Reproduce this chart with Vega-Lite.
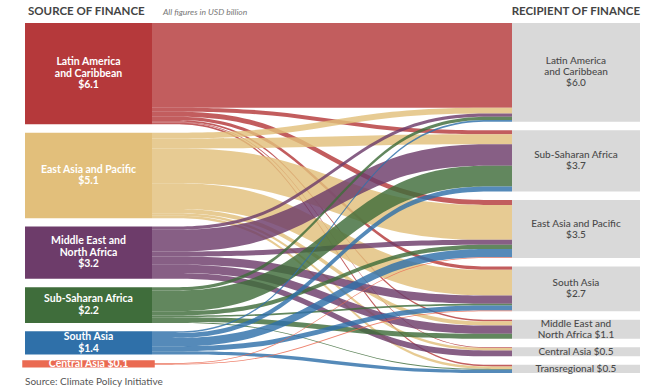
{
  "$schema": "https://vega.github.io/schema/vega-lite/v6.json",
  "width": 650,
  "height": 390,
  "autosize": "none",
  "padding": 0,
  "background": "white",
  "config": {"view": {"stroke": null}, "text": {"font": "Lato"}},
  "datasets": {
    "links": [
      {"source": "Latin America and Caribbean", "target": "Latin America and Caribbean", "value": 5.1},
      {"source": "Latin America and Caribbean", "target": "Sub-Saharan Africa", "value": 0.25},
      {"source": "Latin America and Caribbean", "target": "East Asia and Pacific", "value": 0.3},
      {"source": "Latin America and Caribbean", "target": "South Asia", "value": 0.2},
      {"source": "Latin America and Caribbean", "target": "Middle East and North Africa", "value": 0.1},
      {"source": "Latin America and Caribbean", "target": "Central Asia", "value": 0.05},
      {"source": "Latin America and Caribbean", "target": "Transregional", "value": 0.1},
      {"source": "East Asia and Pacific", "target": "Latin America and Caribbean", "value": 0.35},
      {"source": "East Asia and Pacific", "target": "Sub-Saharan Africa", "value": 0.6},
      {"source": "East Asia and Pacific", "target": "East Asia and Pacific", "value": 2.1},
      {"source": "East Asia and Pacific", "target": "South Asia", "value": 1.55},
      {"source": "East Asia and Pacific", "target": "Middle East and North Africa", "value": 0.25},
      {"source": "East Asia and Pacific", "target": "Central Asia", "value": 0.15},
      {"source": "East Asia and Pacific", "target": "Transregional", "value": 0.15},
      {"source": "Middle East and North Africa", "target": "Latin America and Caribbean", "value": 0.2},
      {"source": "Middle East and North Africa", "target": "Sub-Saharan Africa", "value": 1.3},
      {"source": "Middle East and North Africa", "target": "East Asia and Pacific", "value": 0.3},
      {"source": "Middle East and North Africa", "target": "South Asia", "value": 0.5},
      {"source": "Middle East and North Africa", "target": "Middle East and North Africa", "value": 0.5},
      {"source": "Middle East and North Africa", "target": "Central Asia", "value": 0.35},
      {"source": "Sub-Saharan Africa", "target": "Latin America and Caribbean", "value": 0.2},
      {"source": "Sub-Saharan Africa", "target": "Sub-Saharan Africa", "value": 1.25},
      {"source": "Sub-Saharan Africa", "target": "East Asia and Pacific", "value": 0.25},
      {"source": "Sub-Saharan Africa", "target": "South Asia", "value": 0.1},
      {"source": "Sub-Saharan Africa", "target": "Middle East and North Africa", "value": 0.3},
      {"source": "Sub-Saharan Africa", "target": "Transregional", "value": 0.05},
      {"source": "South Asia", "target": "Latin America and Caribbean", "value": 0.1},
      {"source": "South Asia", "target": "Sub-Saharan Africa", "value": 0.3},
      {"source": "South Asia", "target": "East Asia and Pacific", "value": 0.5},
      {"source": "South Asia", "target": "South Asia", "value": 0.3},
      {"source": "South Asia", "target": "Transregional", "value": 0.2},
      {"source": "Central Asia", "target": "East Asia and Pacific", "value": 0.05},
      {"source": "Central Asia", "target": "South Asia", "value": 0.05}
    ],
    "sourceLabels": [
      {"name": "Latin America and Caribbean", "label": "Latin America\nand Caribbean\n$6.1"},
      {"name": "East Asia and Pacific", "label": "East Asia and Pacific\n$5.1"},
      {"name": "Middle East and North Africa", "label": "Middle East and\nNorth Africa\n$3.2"},
      {"name": "Sub-Saharan Africa", "label": "Sub-Saharan Africa\n$2.2"},
      {"name": "South Asia", "label": "South Asia\n$1.4"},
      {"name": "Central Asia", "label": "Central Asia $0.1"}
    ],
    "targetLabels": [
      {"name": "Latin America and Caribbean", "label": "Latin America\nand Caribbean\n$6.0"},
      {"name": "Sub-Saharan Africa", "label": "Sub-Saharan Africa\n$3.7"},
      {"name": "East Asia and Pacific", "label": "East Asia and Pacific\n$3.5"},
      {"name": "South Asia", "label": "South Asia\n$2.7"},
      {"name": "Middle East and North Africa", "label": "Middle East and\nNorth Africa $1.1"},
      {"name": "Central Asia", "label": "Central Asia $0.5"},
      {"name": "Transregional", "label": "Transregional $0.5"}
    ]
  },
  "layer": [
    {
      "data": {"name": "links"},
      "transform": [
        {"joinaggregate": [{"op": "sum", "field": "value", "as": "srcTotal"}], "groupby": ["source"]},
        {"joinaggregate": [{"op": "sum", "field": "value", "as": "tgtTotal"}], "groupby": ["target"]},
        {"window": [{"op": "dense_rank", "as": "srcRank"}], "sort": [{"field": "srcTotal", "order": "descending"}]},
        {"window": [{"op": "dense_rank", "as": "tgtRank"}], "sort": [{"field": "tgtTotal", "order": "descending"}]},
        {"window": [{"op": "sum", "field": "value", "as": "srcCum"}], "sort": [{"field": "srcTotal", "order": "descending"}, {"field": "tgtTotal", "order": "descending"}], "frame": [null, 0]},
        {"window": [{"op": "sum", "field": "value", "as": "tgtCum"}], "sort": [{"field": "tgtTotal", "order": "descending"}, {"field": "srcTotal", "order": "descending"}], "frame": [null, 0]},
        {"calculate": "datum.srcCum + (datum.srcRank - 1) * 0.506", "as": "sEnd"},
        {"calculate": "datum.tgtCum + (datum.tgtRank - 1) * 0.506", "as": "tEnd"},
        {"fold": ["source", "target"], "as": ["k1", "v1"]},
        {"fold": ["source", "target"], "as": ["k2", "v2"]},
        {"calculate": "(datum.k1 === 'target' ? 2 : 0) + (datum.k2 === 'target' ? 1 : 0)", "as": "stage"},
        {"calculate": "datum.k1 === 'source' ? datum.sEnd : datum.tEnd", "as": "yB"},
        {"calculate": "datum.yB - datum.value", "as": "yA"}
      ],
      "mark": {"type": "area", "interpolate": "basis", "orient": "vertical", "opacity": 0.82},
      "encoding": {
        "x": {"field": "stage", "type": "quantitative", "scale": {"domain": [-1.2667, 4.15], "nice": false, "zero": false}, "axis": null},
        "y": {"field": "yA", "type": "quantitative", "scale": {"domain": [-1.3855, 22.108], "nice": false, "zero": false, "reverse": true}, "axis": null},
        "y2": {"field": "yB"},
        "color": {
          "field": "source", "type": "nominal", "legend": null,
          "scale": {
            "domain": ["Latin America and Caribbean", "East Asia and Pacific", "Middle East and North Africa", "Sub-Saharan Africa", "South Asia", "Central Asia"],
            "range": ["#b5393b", "#e2bf7b", "#6d3c6a", "#3f6d3b", "#2f70a9", "#ea6a52"]
          }
        },
        "detail": {"field": "target"}
      }
    },
    {
      "data": {"name": "links"},
      "transform": [
        {"aggregate": [{"op": "sum", "field": "value", "as": "total"}], "groupby": ["source"]},
        {"window": [{"op": "sum", "field": "total", "as": "cum"}, {"op": "row_number", "as": "rank"}], "sort": [{"field": "total", "order": "descending"}], "frame": [null, 0]},
        {"calculate": "datum.cum + (datum.rank - 1) * 0.506", "as": "yEnd"},
        {"calculate": "datum.yEnd - datum.total", "as": "yStart"},
        {"lookup": "source", "from": {"data": {"name": "sourceLabels"}, "key": "name", "fields": ["label"]}},
        {"calculate": "(datum.yStart + datum.yEnd) / 2 - (length(split(datum.label, '\\n')) - 1) * 0.3464", "as": "yText"}
      ],
      "layer": [
        {
          "mark": {"type": "rect", "stroke": "#ea6a52"},
          "encoding": {
            "x": {"datum": -1.0583, "type": "quantitative"},
            "x2": {"datum": 0},
            "y": {"field": "yStart", "type": "quantitative"},
            "y2": {"field": "yEnd"},
            "color": {"field": "source", "type": "nominal", "legend": null},
            "strokeWidth": {"condition": {"test": "datum.total < 0.3", "value": 5.5}, "value": 0}
          }
        },
        {
          "mark": {"type": "text", "color": "white", "fontWeight": "bold", "fontSize": 10.5, "lineBreak": "\n", "lineHeight": 11.5, "align": "center", "baseline": "middle"},
          "encoding": {
            "x": {"datum": -0.529, "type": "quantitative"},
            "y": {"field": "yText", "type": "quantitative"},
            "text": {"field": "label"}
          }
        }
      ]
    },
    {
      "data": {"name": "links"},
      "transform": [
        {"aggregate": [{"op": "sum", "field": "value", "as": "total"}], "groupby": ["target"]},
        {"window": [{"op": "sum", "field": "total", "as": "cum"}, {"op": "row_number", "as": "rank"}], "sort": [{"field": "total", "order": "descending"}], "frame": [null, 0]},
        {"calculate": "datum.cum + (datum.rank - 1) * 0.506", "as": "yEnd"},
        {"calculate": "datum.yEnd - datum.total", "as": "yStart"},
        {"lookup": "target", "from": {"data": {"name": "targetLabels"}, "key": "name", "fields": ["label"]}},
        {"calculate": "(datum.yStart + datum.yEnd) / 2 - (length(split(datum.label, '\\n')) - 1) * 0.3313", "as": "yText"}
      ],
      "layer": [
        {
          "mark": {"type": "rect", "color": "#d9d9d9"},
          "encoding": {
            "x": {"datum": 3, "type": "quantitative"},
            "x2": {"datum": 4.0667},
            "y": {"field": "yStart", "type": "quantitative"},
            "y2": {"field": "yEnd"}
          }
        },
        {
          "mark": {"type": "text", "color": "#4a4a4a", "fontWeight": 500, "fontSize": 10, "lineBreak": "\n", "lineHeight": 11, "align": "center", "baseline": "middle"},
          "encoding": {
            "x": {"datum": 3.533, "type": "quantitative"},
            "y": {"field": "yText", "type": "quantitative"},
            "text": {"field": "label"}
          }
        }
      ]
    },
    {
      "data": {"values": [{"t": "SOURCE OF FINANCE"}]},
      "mark": {"type": "text", "align": "left", "baseline": "alphabetic", "fontWeight": "bold", "fontSize": 11.5, "color": "#444444"},
      "encoding": {"x": {"datum": -1.0333, "type": "quantitative"}, "y": {"datum": -0.482, "type": "quantitative"}, "text": {"field": "t"}}
    },
    {
      "data": {"values": [{"t": "All figures in USD billion"}]},
      "mark": {"type": "text", "align": "left", "baseline": "alphabetic", "fontStyle": "italic", "fontSize": 8.5, "color": "#777777"},
      "encoding": {"x": {"datum": 0.0917, "type": "quantitative"}, "y": {"datum": -0.482, "type": "quantitative"}, "text": {"field": "t"}}
    },
    {
      "data": {"values": [{"t": "RECIPIENT OF FINANCE"}]},
      "mark": {"type": "text", "align": "right", "baseline": "alphabetic", "fontWeight": "bold", "fontSize": 11.5, "color": "#444444"},
      "encoding": {"x": {"datum": 4.0667, "type": "quantitative"}, "y": {"datum": -0.482, "type": "quantitative"}, "text": {"field": "t"}}
    },
    {
      "data": {"values": [{"t": "Source: Climate Policy Initiative"}]},
      "mark": {"type": "text", "align": "left", "baseline": "alphabetic", "fontSize": 10, "color": "#555555"},
      "encoding": {"x": {"datum": -1.0583, "type": "quantitative"}, "y": {"datum": 21.807, "type": "quantitative"}, "text": {"field": "t"}}
    }
  ]
}
